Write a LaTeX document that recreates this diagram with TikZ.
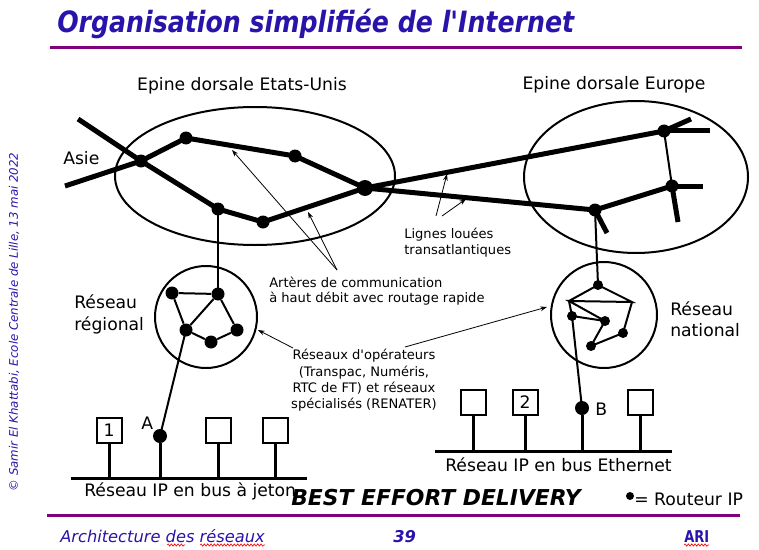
\documentclass[tikz,border=0pt]{standalone}
\usepackage{fontspec}
\setmainfont{DejaVu Sans}
\usetikzlibrary{arrows.meta,decorations.pathmorphing}
\definecolor{slideblue}{RGB}{40,20,170}
\definecolor{slidepurple}{RGB}{128,0,128}
\newcommand{\pxfont}[1]{\fontsize{#1pt}{1.25\dimexpr#1pt\relax}\selectfont}
\begin{document}
\begin{tikzpicture}[x=0.75pt,y=-0.75pt,
  router/.style={circle,fill=black,inner sep=0pt,minimum size=9.75pt},
  smallrouter/.style={circle,fill=black,inner sep=0pt,minimum size=7.5pt},
  hostrouter/.style={circle,fill=black,inner sep=0pt,minimum size=10.5pt},
  host/.style={draw,line width=1.5pt,inner sep=0pt,minimum size=18.75pt,font=\pxfont{12.9}},
  backbone/.style={line width=3.75pt},
  link/.style={line width=1.5pt},
  bus/.style={line width=2.25pt},
  zone/.style={line width=1.5pt},
  pointer/.style={line width=0.6pt,-{Stealth[length=5pt,width=3.5pt]}},
  label/.style={font=\pxfont{12.9},inner sep=0pt},
  note/.style={font=\pxfont{9.8},inner sep=0pt,align=left},
  spell/.style={red,line width=0.5pt,decorate,decoration={snake,amplitude=0.8pt,segment length=2.5pt}}
]
\useasboundingbox (0,0) rectangle (759,549);

% header and footer
\node[anchor=base west,inner sep=0pt,text=slideblue,font=\pxfont{22}\bfseries\itshape] (title) at (57,33)
  {\scalebox{0.86}[1]{Organisation simplifiée de l\textquotesingle Internet}};
\draw[slidepurple,line width=2.25pt] (50,48) -- (742,48);
\draw[slidepurple,line width=2.25pt] (47,515) -- (740,515);
\node[anchor=base west,inner sep=0pt,text=slideblue,font=\pxfont{12.2}\itshape] (foot) at (60,542) {Architecture des réseaux};
\node[anchor=base west,inner sep=0pt,text=slideblue,font=\pxfont{12.2}\bfseries\itshape] (page) at (393,542) {39};
\node[anchor=base west,inner sep=0pt,text=slideblue,font=\pxfont{12.2}\bfseries] (ari) at (684,542) {\scalebox{0.8}[1]{ARI}};
\draw[spell] (167,545) -- (185,545);
\draw[spell] (200,545) -- (265,545);
\draw[spell] (684,545) -- (709,545);
\node[rotate=90,inner sep=0pt,text=slideblue,font=\pxfont{8.85}\itshape] (copy) at (14,322)
  {© Samir El Khattabi, Ecole Centrale de Lille, 13 mai 2022};

% backbone zones
\draw[zone] (255,176) ellipse (140 and 69);
\draw[zone] (636,177) ellipse (112 and 76);
\node[label,anchor=base] (usl) at (242,91) {Epine dorsale Etats-Unis};
\node[label,anchor=base] (eul) at (614,90) {Epine dorsale Europe};
\node[label,anchor=base west] (asie) at (63,164) {Asie};

% US backbone routers
\node[router] (a1) at (141,161) {};
\node[router] (a2) at (186,138) {};
\node[router] (a3) at (295,156) {};
\node[router,minimum size=12pt] (a4) at (365,188) {};
\node[router] (a5) at (218,209) {};
\node[router] (a6) at (263,222) {};
\coordinate (asiaN) at (78,119);
\coordinate (asiaS) at (65,186);
\draw[backbone] (asiaN) -- (a1.center) -- (a5.center) -- (a6.center) -- (a4.center);
\draw[backbone] (asiaS) -- (a1.center) -- (a2.center) -- (a3.center) -- (a4.center);

% European backbone routers
\node[router] (e1) at (664,131) {};
\node[router] (e2) at (672,186) {};
\node[router] (e3) at (595,210) {};
\coordinate (e1s1) at (691,119);
\coordinate (e1s2) at (710,131);
\coordinate (e2s1) at (703,186);
\coordinate (e2s2) at (678,222);
\coordinate (e3s1) at (607,233);
\draw[backbone] (a4.center) -- (e1.center);
\draw[backbone] (a4.center) -- (e3.center) -- (e2.center);
\draw[link] (e1.center) -- (e2.center);
\draw[backbone] (e1.center) -- (e1s1);
\draw[backbone] (e1.center) -- (e1s2);
\draw[backbone] (e2.center) -- (e2s1);
\draw[backbone] (e2.center) -- (e2s2);
\draw[backbone] (e3.center) -- (e3s1);

% regional network
\draw[zone] (206,317) circle (51);
\node[router] (r1) at (172,293) {};
\node[router] (r2) at (218,294) {};
\node[router] (r3) at (186,330) {};
\node[router] (r4) at (211,342) {};
\node[router] (r5) at (237,330) {};
\draw[link] (r1) -- (r2) -- (r3) -- (r1);
\draw[link] (r2) -- (r5) -- (r4) -- (r3);
\draw[link] (a5.center) -- (r2.center);
\node[label,anchor=base west] (regl) at (74,308) {Réseau};
\node[label,anchor=base west] (regl2) at (74,330) {régional};

% national network
\draw[zone] (604,315) circle (53);
\node[smallrouter] (n1) at (598,285) {};
\coordinate (nl) at (569,301);
\coordinate (nr) at (632,302);
\node[smallrouter] (n2) at (572,316) {};
\node[smallrouter] (n3) at (605,321) {};
\node[smallrouter] (n4) at (623,333) {};
\node[smallrouter] (n5) at (591,346) {};
\draw[link] (nl) -- (n1.center) -- (nr) -- (nl) -- (n3.center);
\draw[link] (nl) -- (n2.center) -- (n3.center) -- (n5.center) -- (n4.center) -- (nr);
\draw[link] (e3.center) -- (n1.center);
\node[label,anchor=base west] (natl) at (670,315) {Réseau};
\node[label,anchor=base west] (natl2) at (670,336) {national};

% token bus network
\coordinate (busL1) at (71,478);
\coordinate (busL2) at (307,478);
\draw[bus] (busL1) -- (busL2);
\node[host] (h1) at (109,430) {1};
\node[hostrouter] (ra) at (160,436) {};
\node[host] (h3) at (218,430) {};
\node[host] (h4) at (275,430) {};
\foreach \h in {h1,ra,h3,h4} \draw[bus] (\h) -- (\h |- busL1);
\draw[link] (r3.center) -- (ra.center);
\node[label,anchor=base west] (la) at (141,429) {A};
\node[label,anchor=base west] (busLl) at (84,496) {Réseau IP en bus à jeton};

% Ethernet bus network
\coordinate (busR1) at (435,451);
\coordinate (busR2) at (672,451);
\draw[bus] (busR1) -- (busR2);
\node[host] (h5) at (473,402) {};
\node[host] (h2) at (525,402) {2};
\node[hostrouter] (rb) at (582,408) {};
\node[host] (h6) at (640,402) {};
\foreach \h in {h5,h2,rb,h6} \draw[bus] (\h) -- (\h |- busR1);
\draw[link] (n2.center) -- (rb.center);
\node[label,anchor=base west] (lb) at (595,415) {B};
\node[label,anchor=base west] (busRl) at (445,471) {Réseau IP en bus Ethernet};

% annotations
\node[note,anchor=base west] (lign) at (404,238) {Lignes louées};
\node[note,anchor=base west] (lign2) at (404,254) {transatlantiques};
\coordinate (lgA) at (436,216);
\coordinate (lgB) at (442,216);
\draw[pointer] (lgA) -- (447,174);
\draw[pointer] (lgB) -- (466,199);

\node[note,anchor=base west] (art) at (269,287) {Artères de communication};
\node[note,anchor=base west] (art2) at (269,302) {à haut débit avec routage rapide};
\coordinate (arA) at (337,270);
\draw[pointer] (arA) -- (232,150);
\draw[pointer] (arA) -- (308,212);

\node[note,align=center,anchor=north] (oper) at (364,349)
  {Réseaux d\textquotesingle opérateurs\\(Transpac, Numéris,\\RTC de FT) et réseaux\\spécialisés (RENATER)};
\coordinate (opA) at (293,348);
\coordinate (opB) at (405,347);
\draw[pointer] (opA) -- (258,330);
\draw[pointer] (opB) -- (547,307);

% legend
\node[anchor=base west,inner sep=0pt,font=\pxfont{16.4}\bfseries\itshape] (best) at (291,505) {BEST EFFORT DELIVERY};
\node[circle,fill=black,inner sep=0pt,minimum size=6pt] (legdot) at (630,496) {};
\node[label,anchor=base west] (legtxt) at (634,505) {= Routeur IP};
\end{tikzpicture}
\end{document}
